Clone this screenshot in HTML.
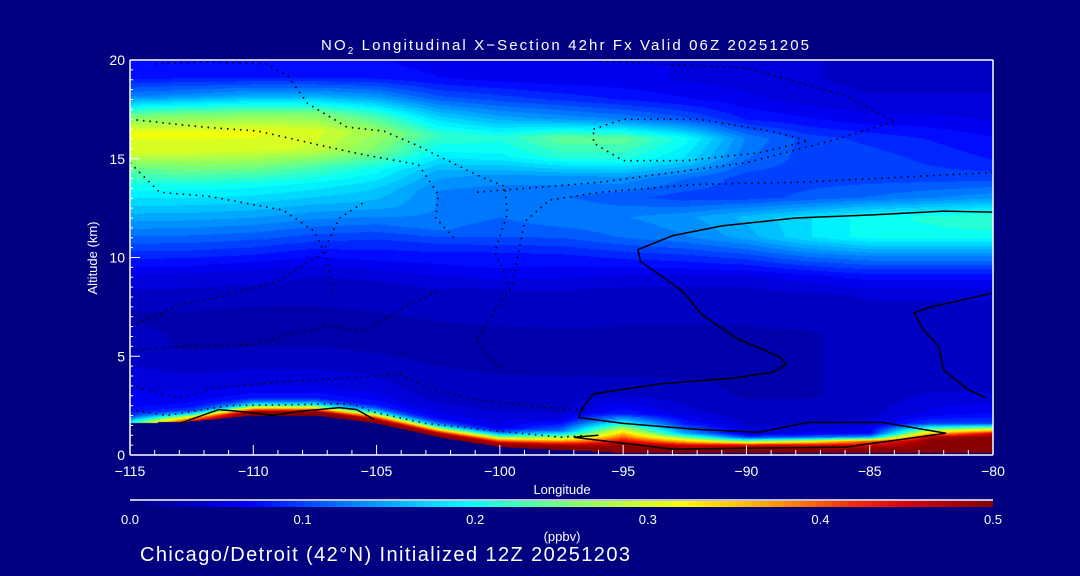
<!DOCTYPE html>
<html><head><meta charset="utf-8">
<style>
html,body{margin:0;padding:0;background:#000080;width:1080px;height:576px;overflow:hidden}
#wrap{position:relative;width:1080px;height:576px}
canvas{position:absolute;left:130px;top:60px}
svg{position:absolute;left:0;top:0}
text{font-family:"Liberation Sans",sans-serif;fill:#fff}
</style></head><body>
<div id="wrap">
<canvas id="field" width="863" height="395"></canvas>
<svg id="svg" width="1080" height="576">
<defs><linearGradient id="cb" x1="0" x2="1" y1="0" y2="0"></linearGradient></defs>
<g id="contours"></g>
<g id="axes"></g>
<text x="565" y="50" text-anchor="middle" font-size="15" textLength="488">NO<tspan font-size="10" dy="4">2</tspan><tspan dy="-4"> Longitudinal X−Section 42hr  Fx Valid 06Z 20251205</tspan></text>
<text x="562" y="494" text-anchor="middle" font-size="13">Longitude</text>
<text transform="translate(97,258) rotate(-90)" text-anchor="middle" font-size="13">Altitude (km)</text>
<rect x="130" y="501" width="863" height="6" fill="url(#cb)"/>
<line x1="130" x2="993" y1="500" y2="500" stroke="#fff" stroke-width="1.5"/>
<g id="cbticks"></g>
<text x="562" y="541" text-anchor="middle" font-size="13">(ppbv)</text>
<text x="140" y="561" font-size="20" textLength="490">Chicago/Detroit (42°N) Initialized 12Z 20251203</text>
</svg>
</div>
<script>
const lons = [-115,-112.5,-110,-107.5,-105,-102.5,-100,-97.5,-95,-92.5,-90,-87.5,-85,-82.5,-80];
const levels = [0,0.2,0.4,0.6,0.8,1,1.5,2,3,4,6,8,9,10,11,12,13,14,15,16,17,18,19,20];
const terrain = [1.6,1.7,2.0,2.0,1.6,0.9,0.4,0.25,0.1,0.1,0.1,0.1,0.1,0.1,0.1];
const no2Profiles = [
[0.22,0.15,0.1,0.08,0.07,0.065,0.06,0.055,0.045,0.035,0.03,0.05,0.08,0.11,0.14,0.17,0.2,0.24,0.3,0.31,0.24,0.13,0.08,0.07],
[0.45,0.35,0.2,0.1,0.08,0.07,0.06,0.05,0.04,0.03,0.03,0.05,0.08,0.11,0.14,0.17,0.2,0.25,0.3,0.31,0.25,0.14,0.08,0.07],
[0.5,0.5,0.35,0.2,0.12,0.08,0.06,0.05,0.04,0.03,0.03,0.05,0.08,0.11,0.14,0.17,0.2,0.25,0.3,0.31,0.25,0.15,0.08,0.07],
[0.5,0.5,0.35,0.2,0.12,0.08,0.06,0.05,0.04,0.03,0.03,0.045,0.07,0.1,0.13,0.16,0.19,0.23,0.29,0.3,0.25,0.15,0.08,0.07],
[0.5,0.48,0.35,0.2,0.12,0.08,0.06,0.05,0.04,0.03,0.03,0.045,0.07,0.09,0.12,0.15,0.17,0.2,0.25,0.27,0.22,0.14,0.08,0.07],
[0.5,0.48,0.33,0.18,0.1,0.07,0.05,0.04,0.035,0.03,0.03,0.045,0.065,0.085,0.12,0.13,0.13,0.15,0.19,0.22,0.17,0.11,0.07,0.06],
[0.5,0.48,0.35,0.2,0.1,0.06,0.05,0.04,0.035,0.03,0.03,0.04,0.065,0.08,0.11,0.12,0.12,0.14,0.19,0.21,0.15,0.1,0.065,0.06],
[0.5,0.5,0.4,0.3,0.2,0.12,0.06,0.04,0.035,0.03,0.03,0.04,0.06,0.08,0.11,0.13,0.12,0.14,0.21,0.24,0.14,0.09,0.06,0.06],
[0.5,0.5,0.5,0.45,0.4,0.35,0.2,0.08,0.04,0.03,0.03,0.035,0.055,0.085,0.12,0.13,0.11,0.14,0.21,0.24,0.13,0.08,0.06,0.06],
[0.5,0.5,0.45,0.35,0.25,0.15,0.08,0.05,0.035,0.03,0.03,0.035,0.055,0.09,0.13,0.14,0.1,0.12,0.18,0.2,0.11,0.07,0.055,0.055],
[0.5,0.5,0.45,0.25,0.1,0.05,0.04,0.035,0.03,0.03,0.03,0.035,0.055,0.1,0.15,0.16,0.1,0.1,0.12,0.13,0.08,0.06,0.05,0.05],
[0.5,0.5,0.45,0.3,0.12,0.06,0.04,0.035,0.03,0.03,0.03,0.04,0.065,0.12,0.18,0.18,0.11,0.1,0.1,0.1,0.07,0.05,0.045,0.045],
[0.5,0.5,0.45,0.4,0.15,0.07,0.05,0.04,0.035,0.035,0.035,0.045,0.075,0.13,0.2,0.2,0.12,0.1,0.1,0.09,0.06,0.045,0.04,0.04],
[0.5,0.5,0.5,0.5,0.48,0.35,0.1,0.06,0.045,0.035,0.035,0.045,0.075,0.13,0.2,0.21,0.13,0.1,0.09,0.08,0.06,0.045,0.04,0.04],
[0.5,0.5,0.5,0.5,0.5,0.45,0.1,0.07,0.045,0.035,0.035,0.045,0.075,0.13,0.2,0.22,0.14,0.1,0.08,0.07,0.055,0.045,0.04,0.04]
];
const xTicks = [-115,-110,-105,-100,-95,-90,-85,-80];
const yTicks = [0,5,10,15,20];
const cbTicks = [0,0.1,0.2,0.3,0.4,0.5];
const cbStops = [0,0.07,0.13,0.195,0.255,0.32,0.37,0.42,0.45,0.5];
const cbColors = [[0,0,125],[0,0,255],[0,130,255],[0,255,255],[130,255,110],[255,255,0],[255,160,0],[255,40,0],[215,0,0],[135,0,0]];
const contourZeroA = [[-80,12.3],[-82,12.35],[-85,12.15],[-88,12.0],[-91,11.6],[-93,11.1],[-94.4,10.4],[-94.3,9.8],[-93.5,9.1],[-92.6,8.3],[-91.8,7.1],[-90.4,5.9],[-88.7,5.0],[-88.4,4.6],[-88.9,4.2],[-90.5,3.9],[-93.5,3.6],[-96.2,3.1],[-96.7,2.3],[-96.8,1.9],[-95,1.6],[-92,1.3],[-89.5,1.15],[-87.5,1.65],[-84.5,1.65],[-81.9,1.1],[-86,0.4],[-93,0.3],[-97,0.9],[-96,1.0]];
const contourZeroB = [[-80,8.2],[-82.5,7.5],[-83.2,7.2],[-82.8,6.3],[-82.2,5.5],[-82.0,4.3],[-81,3.3],[-80.3,2.9]];
const contourZeroC = [[-113,1.6],[-111.4,2.3],[-110.5,2.2],[-109.2,2.0],[-108.2,2.2],[-106.5,2.4],[-105.8,2.3],[-105.1,1.8]];
const dottedA = [[-114,19.8],[-112,19.9],[-109.5,19.8],[-108.6,19.2],[-107.8,17.8],[-106.2,16.6],[-104.7,16.4],[-103.4,15.7],[-100.8,14.1],[-99.8,13.6],[-99.7,12.2],[-100.2,10.3],[-99.6,8.6]];
const dottedB = [[-115,17.0],[-112,16.6],[-109.8,16.4],[-107,15.6],[-105.5,15.2],[-103.3,14.7],[-102.5,13.2],[-102.6,12.0],[-101.8,10.9]];
const dottedC = [[-115,14.8],[-113.8,13.3],[-111.8,13.1],[-108.8,12.4],[-107.5,11.3],[-107,9.9],[-106.8,8.1]];
const dottedD = [[-97,20.0],[-90,19.6],[-86,18.2],[-84,16.9],[-86.3,16.0],[-90,14.8],[-96,13.8],[-101,13.3]];
const dottedE = [[-80,14.3],[-84,14.05],[-88,13.8],[-92,13.7],[-96,13.3],[-98,12.9],[-99,11.8],[-99.5,8.6],[-101,5.8],[-100,4.4]];
const dottedF = [[-96.2,16.5],[-95,17.0],[-92,17.0],[-89,16.4],[-87.5,15.9],[-89.5,15.3],[-92.5,14.9],[-95,14.9],[-96.2,15.8],[-96.2,16.5]];
const dottedG = [[-115,2.3],[-113.5,2.0],[-112,2.3],[-111,2.5],[-106,2.6],[-105.2,2.2],[-103,1.6],[-100,1.2],[-97.5,0.9],[-96.5,1.0]];
const dottedH = [[-115,3.5],[-113,2.9],[-111.5,3.4],[-108,3.8],[-106,3.9],[-104,4.1],[-103,3.4],[-101,2.8],[-98,2.4],[-96.5,2.3]];
const dottedI = [[-115,5.3],[-113,5.5],[-110,5.6],[-108.5,6.1],[-107,6.5],[-105.5,6.3],[-104,7.4],[-102.5,8.3]];
const dottedJ = [[-115,6.5],[-113,7.6],[-111,8.1],[-109,8.8],[-107.2,10.2],[-106.5,12.0],[-105.5,12.8]];

const X0=130,X1=993,Y0=60,Y1=455;
const xs = lon => X0 + (lon+115)/35*(X1-X0);
const ys = alt => Y1 - alt/20*(Y1-Y0);
const NS='http://www.w3.org/2000/svg';
function interp1(arr, xsArr, v){
  if(v<=xsArr[0]) return [0,0,0];
  for(let i=0;i<xsArr.length-1;i++){ if(v<=xsArr[i+1]) return [i,i+1,(v-xsArr[i])/(xsArr[i+1]-xsArr[i])]; }
  const n=xsArr.length-1; return [n,n,0];
}
function cmap(v){
  v=Math.max(0,Math.min(0.5,v));
  v=Math.min(0.5,Math.round(v/0.0125)*0.0125);
  const [a,b,t]=interp1(null,cbStops,v);
  const c1=cbColors[a],c2=cbColors[b];
  return [0,1,2].map(k=>Math.round(c1[k]+(c2[k]-c1[k])*t));
}
const cv=document.getElementById('field');
const ctx=cv.getContext('2d');
const W=cv.width,H=cv.height;
const img=ctx.createImageData(W,H);
for(let px=0;px<W;px++){
  const lon=-115+(px+0.5)/W*35;
  const [i0,i1,tx]=interp1(null,lons,lon);
  const t=terrain[i0]+(terrain[i1]-terrain[i0])*tx;
  for(let py=0;py<H;py++){
    const z=20-(py+0.5)/H*20;
    let col;
    if(z<t){col=[0,0,128];}
    else{
      const h=(z-t)*20/(20-t);
      const [j0,j1,ty]=interp1(null,levels,h);
      const p0=no2Profiles[i0],p1=no2Profiles[i1];
      const a=p0[j0]+(p0[j1]-p0[j0])*ty;
      const b=p1[j0]+(p1[j1]-p1[j0])*ty;
      col=cmap(a+(b-a)*tx);
    }
    const o=(py*W+px)*4;
    img.data[o]=col[0];img.data[o+1]=col[1];img.data[o+2]=col[2];img.data[o+3]=255;
  }
}
ctx.putImageData(img,0,0);
const grad=document.getElementById('cb');
cbStops.forEach((s,i)=>{
  const st=document.createElementNS(NS,'stop');
  st.setAttribute('offset',(s/0.5*100)+'%');
  st.setAttribute('stop-color','rgb('+cbColors[i].join(',')+')');
  grad.appendChild(st);
});
const cbt=document.getElementById('cbticks');
cbTicks.forEach(v=>{
  const tx=document.createElementNS(NS,'text');
  tx.setAttribute('x',X0+v/0.5*(X1-X0));
  tx.setAttribute('y',524);
  tx.setAttribute('text-anchor','middle');
  tx.setAttribute('font-size','13');
  tx.textContent=v.toFixed(1);
  
  
  cbt.appendChild(tx);
});
const cg=document.getElementById('contours');
function poly(pts,dotted,name){
  const p=document.createElementNS(NS,'polyline');
  p.setAttribute('points',pts.map(q=>xs(q[0])+','+ys(q[1])).join(' '));
  p.setAttribute('fill','none');
  p.setAttribute('stroke','#000');
  p.setAttribute('stroke-width',dotted?'1.6':'1.5');
  if(dotted) p.setAttribute('stroke-dasharray','1.5 5');
  
  
  cg.appendChild(p);
}
poly(contourZeroA,false,'contour-zero-east');
poly(contourZeroB,false,'contour-zero-far-east');
poly(contourZeroC,false,'contour-zero-west');
[dottedA,dottedB,dottedC,dottedD,dottedE,dottedF,dottedG,dottedH,dottedI,dottedJ].forEach((d,i)=>poly(d,true,'contour-negative-'+(i+1)));
const ax=document.getElementById('axes');
function line(x1,y1,x2,y2,name,w){
  const l=document.createElementNS(NS,'line');
  l.setAttribute('x1',x1);l.setAttribute('y1',y1);l.setAttribute('x2',x2);l.setAttribute('y2',y2);
  l.setAttribute('stroke','#fff');l.setAttribute('stroke-width',w||1.5);
  
  
  ax.appendChild(l);
}
line(X0,Y0,X1,Y0,'plot-top-border');
line(X1,Y0,X1,Y1,'plot-right-border');
line(X0,Y1,X1,Y1,'x-axis-line');
line(X0,Y0,X0,Y1,'y-axis-line');
for(let lon=-115;lon<=-80;lon+=1){
  const major=xTicks.includes(lon);
  line(xs(lon),Y1,xs(lon),Y1-(major?10:5),'x-tick',1);
}
for(let a=0;a<=20;a+=0.5){
  const major=yTicks.includes(a);
  line(X0,ys(a),X0+(major?10:3),ys(a),'y-tick',1);
}
xTicks.forEach(v=>{
  const t=document.createElementNS(NS,'text');
  t.setAttribute('x',xs(v));t.setAttribute('y',476);t.setAttribute('text-anchor','middle');t.setAttribute('font-size','14');
  t.textContent=String(v).replace('-','−');
  
  
  ax.appendChild(t);
});
yTicks.forEach(v=>{
  const t=document.createElementNS(NS,'text');
  t.setAttribute('x',125);t.setAttribute('y',ys(v)+5);t.setAttribute('text-anchor','end');t.setAttribute('font-size','14');
  t.textContent=v;
  
  
  ax.appendChild(t);
});
</script>
</body></html>
